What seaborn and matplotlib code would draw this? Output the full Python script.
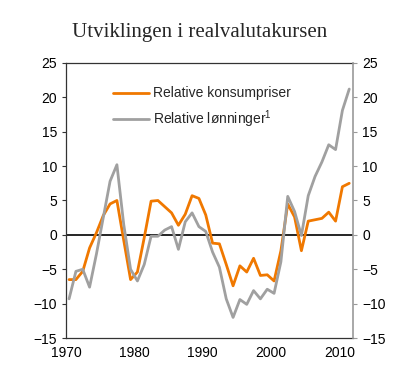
import numpy as np
import pandas as pd
import seaborn as sns
import matplotlib.pyplot as plt

# Data (annual, 1970-2011)
years = list(range(1970, 2012))
konsumpriser = [-6.5, -6.5, -5.3, -1.9, 0.3, 2.8, 4.5, 5.0, -0.8, -6.5,
                -5.4, -0.4, 4.9, 5.0, 4.1, 3.2, 1.4, 3.0, 5.7, 5.3,
                2.9, -1.2, -1.3, -4.3, -7.4, -4.5, -5.4, -3.4, -5.9, -5.8,
                -6.7, -2.3, 4.5, 2.6, -2.3, 2.0, 2.2, 2.4, 3.3, 2.0,
                7.0, 7.5]
lonninger = [-9.3, -5.3, -5.0, -7.6, -2.8, 2.5, 7.8, 10.2, 1.5, -5.0,
             -6.7, -4.3, -0.2, -0.2, 0.7, 1.2, -2.1, 1.9, 3.2, 1.2,
             0.5, -2.5, -4.7, -9.3, -12.0, -9.4, -10.1, -8.1, -9.3, -7.9,
             -8.5, -3.9, 5.6, 3.4, -0.1, 5.7, 8.5, 10.6, 13.1, 12.4,
             18.1, 21.2]
series_names = ["Relative konsumpriser", "Relative lønninger$^{\\mathregular{1}}$"]
y_ticks = [-15, -10, -5, 0, 5, 10, 15, 20, 25]
x_ticks = [1970, 1980, 1990, 2000, 2010]

df = pd.DataFrame({
    "year": np.array(years) + 0.45,
    series_names[0]: konsumpriser,
    series_names[1]: lonninger,
}).melt(id_vars="year", var_name="serie", value_name="verdi")

sns.set_style("white")
plt.rcParams["font.family"] = ["Liberation Sans", "DejaVu Sans"]

fig = plt.figure(figsize=(4, 3.79), dpi=100)
ax = fig.add_axes([0.165, 0.108, 0.7175, 0.726])

sns.lineplot(data=df, x="year", y="verdi", hue="serie",
             palette=["#F07800", "#A0A0A0"], linewidth=2.0, ax=ax)

ax.axhline(0, color="black", linewidth=1.2, zorder=1)
ax.set_xlim(1970, 2012)
ax.set_ylim(-15, 25)
ax.set_xticks(x_ticks)
ax.set_yticks(y_ticks)
ax.set_xlabel("")
ax.set_ylabel("")
ax.tick_params(axis="x", direction="in", length=3, labelsize=10, pad=6,
               colors="#333333", labelcolor="black")
ax.tick_params(axis="y", direction="out", length=3, labelsize=10,
               colors="#333333", labelcolor="black")
for s in ["left", "bottom", "top"]:
    ax.spines[s].set_color("#333333")
    ax.spines[s].set_linewidth(0.9)
ax.spines["right"].set_visible(False)

ax2 = ax.twinx()
ax2.set_ylim(-15, 25)
ax2.set_yticks(y_ticks)
ax2.tick_params(axis="y", direction="out", length=3, labelsize=10,
                colors="#999999", labelcolor="black")
for s in ["left", "bottom", "top"]:
    ax2.spines[s].set_visible(False)
ax2.spines["right"].set_color("#999999")
ax2.spines["right"].set_linewidth(1.2)

leg = ax.legend(loc="upper left", bbox_to_anchor=(0.12, 0.96), frameon=False,
                fontsize=10, handlelength=2.6, handletextpad=0.25,
                labelspacing=0.6, title=None)

fig.text(0.5, 0.915, "Utviklingen i realvalutakursen", ha="center",
         va="center", fontsize=15, family="Liberation Serif")

fig.savefig("out.png", dpi=100)
